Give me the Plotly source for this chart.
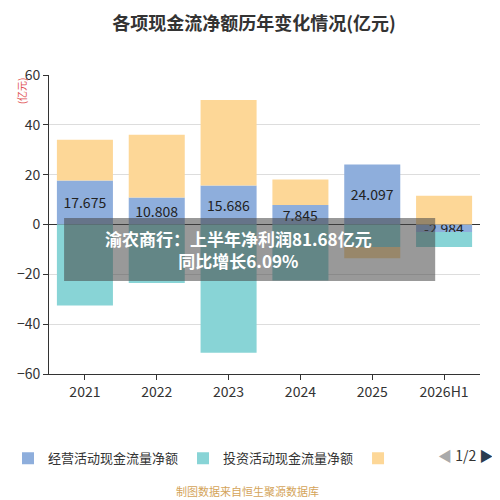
import plotly.graph_objects as go

years = ["2021", "2022", "2023", "2024", "2025", "2026H1"]
operating = [17.675, 10.808, 15.686, 7.845, 24.097, -2.984]
investing = [-32.5, -23.5, -51.5, -22.5, -9.0, -6.0]
financing = [16.3, 25.2, 34.3, 10.2, -4.5, 11.5]
op_labels = ["17.675", "10.808", "15.686", "7.845", "24.097", "-2.984"]

fig = go.Figure()
fig.add_trace(go.Bar(x=years, y=operating, name="经营活动现金流量净额",
                     marker=dict(color="#8eaedc", line=dict(width=0)),
                     text=op_labels, textposition="inside", insidetextanchor="middle",
                     textfont=dict(color="#222", size=14)))
fig.add_trace(go.Bar(x=years, y=investing, name="投资活动现金流量净额",
                     marker=dict(color="#88d4d6", line=dict(width=0))))
fig.add_trace(go.Bar(x=years, y=financing, name=" ",
                     marker=dict(color="#fdd797", line=dict(width=0))))

# page has an 8px body margin, so the figure is a bit smaller than the window
fig.update_layout(
    width=492, height=492, barmode="relative", bargap=0.22,
    plot_bgcolor="white", paper_bgcolor="white",
    margin=dict(l=41, r=20, t=67, b=126),
    font=dict(family="Noto Sans CJK SC", color="#333"),
    title=dict(text="<b>各项现金流净额历年变化情况(亿元)</b>", x=0.5, xanchor="center",
               y=0.968, yanchor="middle", font=dict(size=18, color="#333")),
    uniformtext=dict(mode="show", minsize=14),
    showlegend=True,
    legend=dict(orientation="h", xref="container", yref="container", x=0.0, y=0.085,
                xanchor="left", yanchor="middle",
                font=dict(size=13, color="#333"), itemwidth=30),
    xaxis=dict(showline=True, linecolor="#333", ticks="outside", tickcolor="#333",
               automargin=False, tickfont=dict(size=14, color="#333")),
    yaxis=dict(range=[-60, 60], dtick=20, showgrid=True, gridcolor="#ddd",
               zeroline=True, zerolinecolor="#333", zerolinewidth=1, automargin=False,
               showline=True, linecolor="#333", ticks="outside", tickcolor="#333",
               tickfont=dict(size=14, color="#333")),
)

fig.add_annotation(text="(亿元)", xref="paper", yref="paper", x=-0.085, y=1.0,
                   textangle=-90, showarrow=False, font=dict(size=10, color="#e05050"),
                   yanchor="top")
fig.add_annotation(text="<span style='color:#aaa'>◀</span> 1/2 <span style='color:#2a3d50'>▶</span>",
                   xref="paper", yref="paper", x=1.035, y=-0.31, xanchor="right",
                   showarrow=False, font=dict(size=14, color="#333"))
fig.add_annotation(text="制图数据来自恒生聚源数据库", xref="paper", yref="paper",
                   x=0.46, y=-0.425, showarrow=False, font=dict(size=11, color="#d4a45a"))

fig.add_shape(type="rect", xref="paper", yref="paper", x0=0.035, x1=0.896, y0=0.311, y1=0.522,
              fillcolor="rgba(70,70,70,0.55)", line=dict(width=0), layer="above")
fig.add_annotation(text="<b>渝农商行：上半年净利润81.68亿元<br>同比增长6.09%</b>",
                   xref="paper", yref="paper", x=0.44, y=0.416, showarrow=False,
                   font=dict(size=17, color="white"))

fig.write_html("out.html")
